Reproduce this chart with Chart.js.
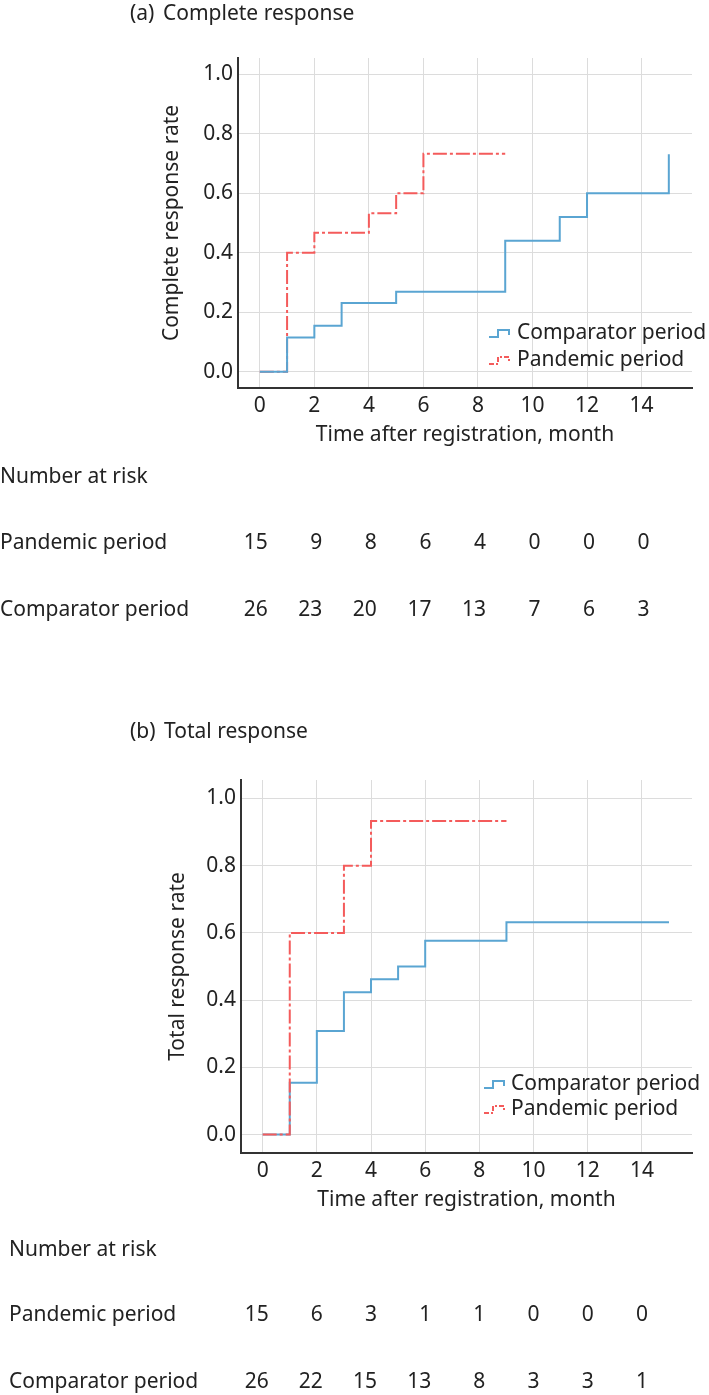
<!DOCTYPE html>
<html>
<head>
<meta charset="utf-8">
<script src="https://cdn.jsdelivr.net/npm/chart.js@4.4.1/dist/chart.umd.min.js"></script>
<style>
  html, body { margin: 0; padding: 0; background: #fff; }
  body { width: 709px; height: 1395px; position: relative; overflow: hidden; }
  canvas { position: absolute; left: 0; }
  #chart-a { top: 0; }
  #chart-b { top: 650px; }
</style>
</head>
<body>
<canvas id="chart-a" width="709" height="650"></canvas>
<canvas id="chart-b" width="709" height="745"></canvas>
<script>
// === Data ===
var xTicks = [0, 2, 4, 6, 8, 10, 12, 14];
var yTicks = [0, 0.2, 0.4, 0.6, 0.8, 1.0];
var seriesNames = ['Comparator period', 'Pandemic period'];

// (a) complete response
var aCompTimes = [0, 1, 2, 3, 5, 9, 11, 12, 15];
var aCompRates = [0, 0.115, 0.154, 0.231, 0.269, 0.44, 0.52, 0.6, 0.731];
var aPandTimes = [0, 1, 2, 4, 5, 6, 9];
var aPandRates = [0, 0.4, 0.467, 0.533, 0.6, 0.733, 0.733];

// (b) total response
var bCompTimes = [0, 1, 2, 3, 4, 5, 6, 9, 15];
var bCompRates = [0, 0.154, 0.308, 0.423, 0.462, 0.5, 0.577, 0.632, 0.632];
var bPandTimes = [0, 1, 3, 4, 9];
var bPandRates = [0, 0.6, 0.8, 0.933, 0.933];

// number at risk
var riskTimes = [0, 2, 4, 6, 8, 10, 12, 14];
var aRiskPandemic = [15, 9, 8, 6, 4, 0, 0, 0];
var aRiskComparator = [26, 23, 20, 17, 13, 7, 6, 3];
var bRiskPandemic = [15, 6, 3, 1, 1, 0, 0, 0];
var bRiskComparator = [26, 22, 15, 13, 8, 3, 3, 1];

var BLUE = '#5aa5d2';
var RED = '#f45b5b';
var RED_DASH = [14, 3, 3, 3];
var FONT = '"Noto Sans", sans-serif';

Chart.defaults.font.family = FONT;
Chart.defaults.font.size = 21;
Chart.defaults.color = '#222';

function kmPoints(times, rates) {
  return times.map(function(t, i) { return { x: t, y: rates[i] }; });
}

// draws title, step legend and the number-at-risk table
var panelPlugin = {
  id: 'panel',
  afterDraw: function(chart, args, o) {
    var ctx = chart.ctx;
    var area = chart.chartArea;
    var xs = chart.scales.x;
    ctx.save();
    ctx.font = '21px ' + FONT;
    ctx.fillStyle = '#222';
    ctx.textBaseline = 'middle';
    ctx.textAlign = 'left';
    ctx.fillText(o.tag, o.tagX, o.titleY);
    ctx.fillText(o.title, o.titleX, o.titleY);

    // legend
    var lx = area.right + o.legendDx;
    [BLUE, RED].forEach(function(col, i) {
      var cy = area.bottom + o.legendDy[i];
      ctx.strokeStyle = col;
      ctx.lineWidth = 2;
      ctx.setLineDash(i === 1 ? [5, 2, 2, 2] : []);
      ctx.beginPath();
      ctx.moveTo(lx, cy + 4);
      ctx.lineTo(lx + 9, cy + 4);
      ctx.lineTo(lx + 9, cy - 3);
      ctx.lineTo(lx + 20, cy - 3);
      ctx.lineTo(lx + 20, cy + 2);
      ctx.stroke();
      ctx.fillText(seriesNames[i], lx + o.legendTextDx, cy);
    });
    ctx.setLineDash([]);

    // number at risk
    ctx.fillText('Number at risk', o.riskX, o.riskY[0]);
    o.riskRows.forEach(function(row, r) {
      var y = o.riskY[r + 1];
      ctx.textAlign = 'left';
      ctx.fillText(row.label, o.riskX, y);
      ctx.textAlign = 'right';
      riskTimes.forEach(function(t, i) {
        ctx.fillText(String(row.values[i]), xs.getPixelForValue(t) + o.riskDx, y);
      });
    });
    ctx.restore();
  }
};

function makePanel(id, cfg) {
  var ctx = document.getElementById(id).getContext('2d');
  return new Chart(ctx, {
    type: 'line',
    data: {
      datasets: [{
        label: seriesNames[0],
        data: kmPoints(cfg.compTimes, cfg.compRates),
        stepped: 'before',
        borderColor: BLUE,
        borderWidth: 2,
        pointRadius: 0,
        fill: false,
        order: cfg.blueOrder
      }, {
        label: seriesNames[1],
        data: kmPoints(cfg.pandTimes, cfg.pandRates),
        stepped: 'before',
        borderColor: RED,
        borderWidth: 2,
        borderDash: RED_DASH,
        pointRadius: 0,
        fill: false,
        order: cfg.redOrder
      }]
    },
    options: {
      responsive: false,
      animation: false,
      layout: { padding: cfg.padding },
      plugins: {
        legend: { display: false },
        tooltip: { enabled: false },
        panel: cfg.panel
      },
      scales: {
        x: {
          type: 'linear',
          min: -0.8,
          max: 15.85,
          afterBuildTicks: function(s) { s.ticks = xTicks.map(function(v) { return { value: v }; }); },
          afterFit: function(s) { s.height = 63.6; },
          grid: { color: '#dcdcdc', lineWidth: 1, drawTicks: false },
          border: { display: true, color: '#333', width: 2 },
          ticks: { padding: 5, font: { size: 21 }, color: '#222' },
          title: { display: true, text: 'Time after registration, month', font: { size: 21 }, color: '#222' }
        },
        y: {
          min: -0.055,
          max: 1.055,
          afterBuildTicks: function(s) { s.ticks = yTicks.map(function(v) { return { value: v }; }); },
          afterFit: function(s) { s.width = cfg.yWidth; },
          grid: { color: '#dcdcdc', lineWidth: 1, drawTicks: false },
          border: { display: true, color: '#333', width: 2 },
          ticks: {
            padding: 5,
            font: { size: 21 },
            color: '#222',
            callback: function(v) { return v.toFixed(1); }
          },
          title: { display: true, text: cfg.yTitle, font: { size: 21 }, color: '#222' }
        }
      }
    },
    plugins: [panelPlugin]
  });
}

makePanel('chart-a', {
  compTimes: aCompTimes, compRates: aCompRates,
  pandTimes: aPandTimes, pandRates: aPandRates,
  blueOrder: 0, redOrder: 1,
  yTitle: 'Complete response rate',
  yWidth: 83,
  padding: { top: 58, right: 17, left: 155, bottom: 198.4 },
  panel: {
    tag: '(a)', tagX: 130, title: 'Complete response', titleX: 163, titleY: 14,
    legendDx: -203, legendTextDx: 28, legendDy: [-55, -28],
    riskX: 0, riskY: [477, 543, 610], riskDx: 8,
    riskRows: [
      { label: 'Pandemic period', values: aRiskPandemic },
      { label: 'Comparator period', values: aRiskComparator }
    ]
  }
});

makePanel('chart-b', {
  compTimes: bCompTimes, compRates: bCompRates,
  pandTimes: bPandTimes, pandRates: bPandRates,
  blueOrder: 1, redOrder: 0,
  yTitle: 'Total response rate',
  yWidth: 80,
  padding: { top: 130, right: 17, left: 161, bottom: 178.4 },
  panel: {
    tag: '(b)', tagX: 130, title: 'Total response', titleX: 164, titleY: 82,
    legendDx: -208, legendTextDx: 27, legendDy: [-69, -44],
    riskX: 9, riskY: [600, 665, 732], riskDx: 6,
    riskRows: [
      { label: 'Pandemic period', values: bRiskPandemic },
      { label: 'Comparator period', values: bRiskComparator }
    ]
  }
});
</script>
</body>
</html>
